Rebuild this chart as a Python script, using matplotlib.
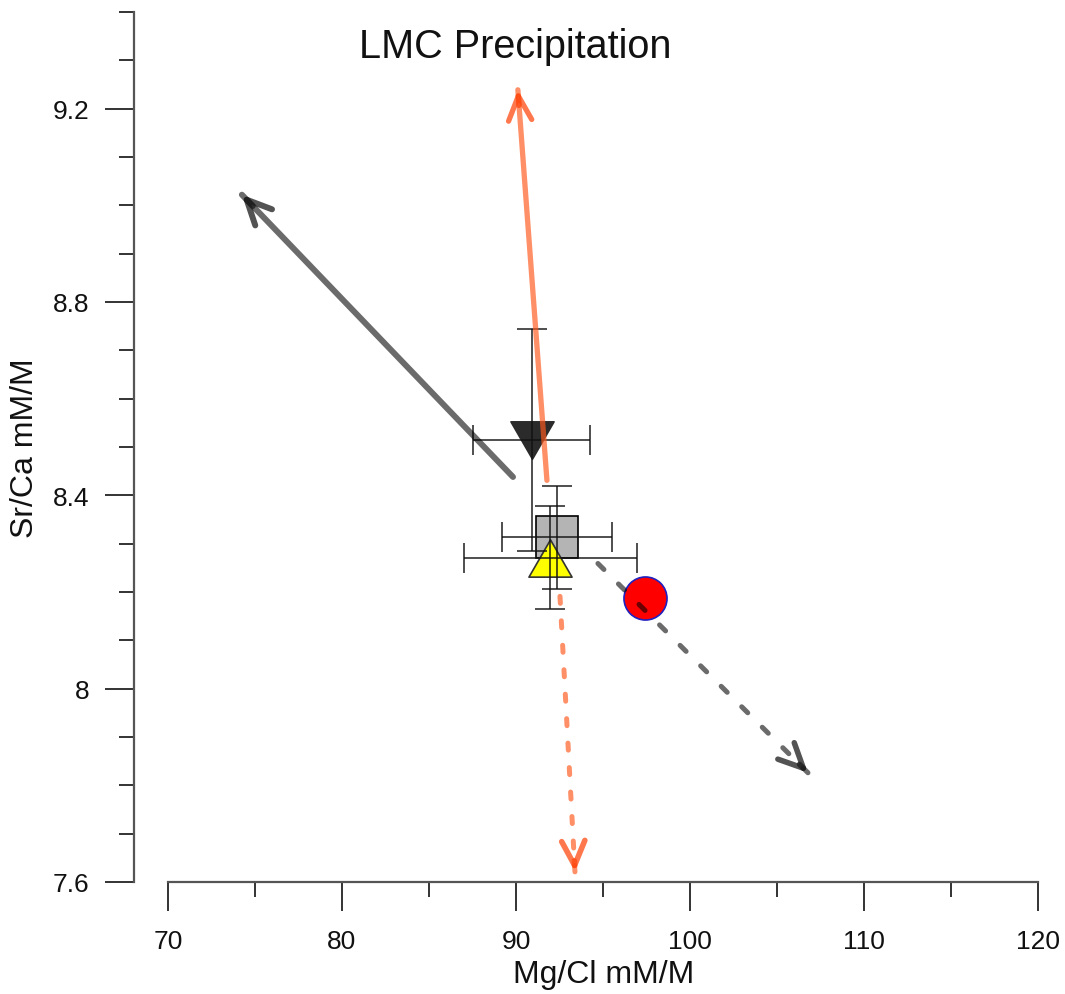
import numpy as np
import matplotlib.pyplot as plt
from matplotlib.path import Path

plt.rcParams['font.family'] = ['Liberation Sans', 'DejaVu Sans']

# marker data (x = Mg/Cl, y = Sr/Ca, with errors)
pt_x = [90.9, 92.36, 91.98, 97.41]
pt_y = [8.514, 8.313, 8.271, 8.187]
pt_xerr = [3.36, 3.16, 4.97, 0.0]
pt_yerr = [0.23, 0.106, 0.107, 0.0]
pt_color = ["#2b2b2b", "#b4b4b4", "#ffff00", "#ff0000"]
pt_edge = ["#2b2b2b", "#000000", "#333333", "#2020c0"]

# arrows: tail -> head
solid_tail_x = [89.83, 91.78]
solid_tail_y = [8.438, 8.431]
solid_head_x = [74.25, 90.11]
solid_head_y = [9.022, 9.239]

dash_tail_x = [94.71, 92.53]
dash_tail_y = [8.259, 8.191]
dash_head_x = [106.78, 93.39]
dash_head_y = [7.826, 7.621]

arrow_colors = ["#000000", "#ff5a1f"]
arrow_alpha = [0.58, 0.68]
head_colors = ["#1a1a1a", "#ff4a10"]

xticks = [70, 80, 90, 100, 110, 120]
yticks = [7.6, 8.0, 8.4, 8.8, 9.2]
ytick_labels = ["7.6", "8", "8.4", "8.8", "9.2"]

fig = plt.figure(figsize=(10.65, 9.95), dpi=100)
ax = fig.add_axes([134 / 1065, 1 - 883 / 995, 904 / 1065, 870 / 995])

# custom equilateral triangles
up_tri = Path([(-1, -0.866), (1, -0.866), (0, 0.866), (-1, -0.866)], closed=True)
down_tri = Path([(-1, 0.866), (1, 0.866), (0, -0.866), (-1, 0.866)], closed=True)
markers = [down_tri, "s", up_tri, "o"]
sizes = [31, 30, 31, 31]

for i in range(len(pt_x)):
    ax.plot(pt_x[i], pt_y[i], marker=markers[i], ms=sizes[i], color=pt_color[i],
            mec=pt_edge[i], mew=1.2, ls="none", zorder=2)
    if pt_xerr[i] > 0:
        ax.errorbar(pt_x[i], pt_y[i], xerr=pt_xerr[i], yerr=pt_yerr[i], fmt="none",
                    ecolor="#111111", alpha=0.8, elinewidth=1.3, capsize=11,
                    capthick=1.3, zorder=3)


def draw_head(x0, y0, x1, y1, color, lw):
    dx = x1 - x0
    dy = y1 - y0
    ax.annotate("", xy=(x1, y1), xytext=(x1 - 0.04 * dx, y1 - 0.04 * dy),
                arrowprops=dict(arrowstyle="->,head_length=0.4,head_width=0.19",
                                lw=lw, color=color, alpha=0.75, mutation_scale=44,
                                shrinkA=0, shrinkB=0, capstyle="round",
                                joinstyle="round"), zorder=5)


# solid arrows
solid_lw = [4.3, 3.8]
for i in range(2):
    ax.plot([solid_tail_x[i], solid_head_x[i]], [solid_tail_y[i], solid_head_y[i]],
            color=arrow_colors[i], alpha=arrow_alpha[i], lw=solid_lw[i],
            solid_capstyle="round", zorder=4)
    draw_head(solid_tail_x[i], solid_tail_y[i], solid_head_x[i], solid_head_y[i],
              head_colors[i], solid_lw[i])

# dashed arrows
dash_pat = [(0, (1.7, 4.1)), (0, (1.4, 3.5))]
for i in range(2):
    ax.plot([dash_tail_x[i], dash_head_x[i]], [dash_tail_y[i], dash_head_y[i]],
            color=arrow_colors[i], alpha=arrow_alpha[i], lw=3.6,
            ls=dash_pat[i], dash_capstyle="round", zorder=4)
    draw_head(dash_tail_x[i], dash_tail_y[i], dash_head_x[i], dash_head_y[i],
              head_colors[i], 4.0)

ax.set_xlim(68.05, 120)
ax.set_ylim(7.6, 9.4)

ax.spines["top"].set_visible(False)
ax.spines["right"].set_visible(False)
ax.spines["bottom"].set_bounds(70, 120)
for s in ["left", "bottom"]:
    ax.spines[s].set_color("#555555")
    ax.spines[s].set_linewidth(1.6)

ax.set_xticks(xticks)
ax.set_xticks(np.arange(75, 120, 10), minor=True)
ax.set_yticks(yticks)
ax.set_yticklabels(ytick_labels)
ax.set_yticks(np.arange(7.7, 9.45, 0.1), minor=True)

ax.tick_params(axis="both", which="major", direction="out", length=21, width=1.4,
               color="#333333", labelsize=19, labelcolor="#111111")
ax.tick_params(axis="both", which="minor", direction="out", length=10.5, width=1.4,
               color="#333333")
ax.tick_params(axis="x", which="major", pad=13)
ax.tick_params(axis="y", which="major", pad=11)

ax.set_xlabel("Mg/Cl mM/M", fontsize=23, va="center", color="#111111")
ax.xaxis.set_label_coords(0.519, -0.106)
ax.set_ylabel("Sr/Ca mM/M", fontsize=23, va="center", color="#111111")
ax.yaxis.set_label_coords(-0.1206, 0.5)

ax.text(0.4215, 0.961, "LMC Precipitation", transform=ax.transAxes, ha="center",
        va="center", fontsize=28.5, color="#111111")

fig.savefig("out.png", dpi=100)
